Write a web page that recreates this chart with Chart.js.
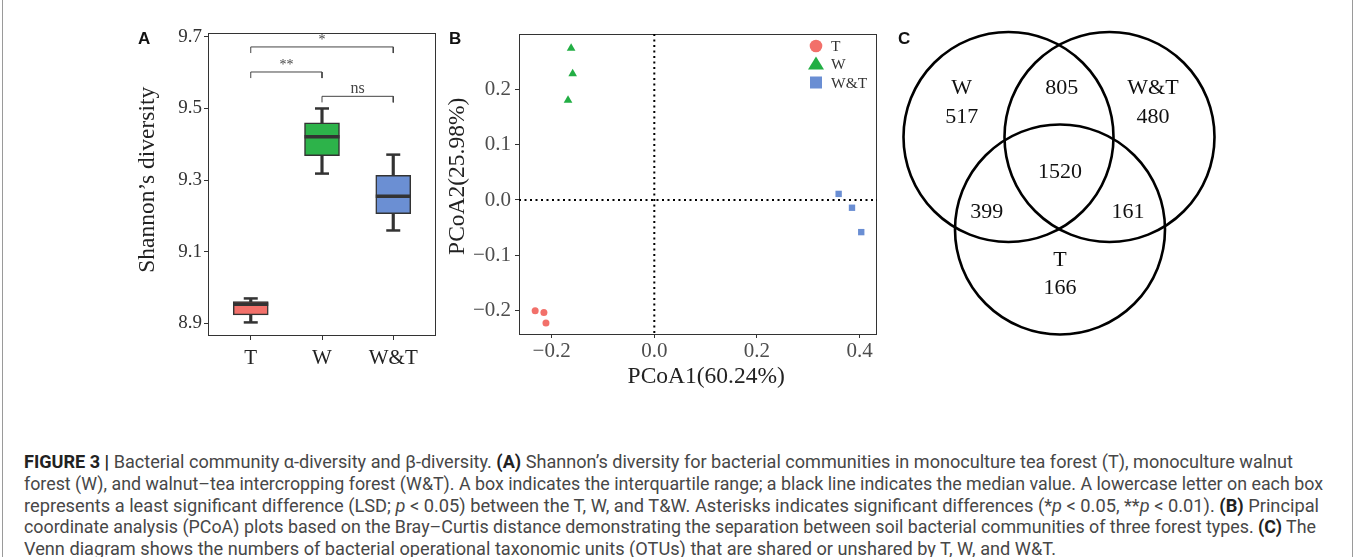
<!DOCTYPE html>
<html>
<head>
<meta charset="utf-8">
<script src="https://cdn.jsdelivr.net/npm/chart.js@4.4.0/dist/chart.umd.min.js"></script>
<style>
  body { margin: 0; background: #fff; width: 1357px; height: 557px; position: relative; overflow: hidden; }
  canvas { position: absolute; }
  .frame { position: absolute; left: 2px; top: -2px; width: 1349px; height: 558px; border: 1px solid #9a9a9a; }
  .panel { position: absolute; font: bold 17px "Liberation Sans", Arial, sans-serif; color: #111; line-height: 17px; }
  .cap { position: absolute; left: 24px; top: 451px; font-family: Roboto, "Liberation Sans", sans-serif; font-size: 18px; color: #474747; line-height: 21.8px; }
  .cap .ln { white-space: nowrap; transform-origin: 0 50%; width: max-content; }
  .cap b { color: #222; }
</style>
</head>
<body>
<div class="frame"></div>
<canvas id="boxChart" width="320" height="390" style="left:120px;top:0"></canvas>
<canvas id="pcoaChart" width="460" height="395" style="left:430px;top:0"></canvas>
<canvas id="vennChart" width="350" height="345" style="left:880px;top:0"></canvas>
<div class="panel" style="left:138px;top:30px">A</div>
<div class="panel" style="left:449px;top:30px">B</div>
<div class="panel" style="left:898px;top:30px">C</div>

<div class="cap" id="cap">
  <div class="ln"><b>FIGURE 3 |</b> Bacterial community α-diversity and β-diversity. <b>(A)</b> Shannon’s diversity for bacterial communities in monoculture tea forest (T), monoculture walnut</div>
  <div class="ln">forest (W), and walnut–tea intercropping forest (W&amp;T). A box indicates the interquartile range; a black line indicates the median value. A lowercase letter on each box</div>
  <div class="ln">represents a least significant difference (LSD; <i>p</i> &lt; 0.05) between the T, W, and T&amp;W. Asterisks indicates significant differences (*<i>p</i> &lt; 0.05, **<i>p</i> &lt; 0.01). <b>(B)</b> Principal</div>
  <div class="ln">coordinate analysis (PCoA) plots based on the Bray–Curtis distance demonstrating the separation between soil bacterial communities of three forest types. <b>(C)</b> The</div>
  <div class="ln">Venn diagram shows the numbers of bacterial operational taxonomic units (OTUs) that are shared or unshared by T, W, and W&amp;T.</div>
</div>

<script>
Chart.defaults.font.family = '"Liberation Serif", "Times New Roman", serif'
Chart.defaults.animation = false
// big point styles (median bars, venn rings) must not push the plot box in
Chart.defaults.layout.autoPadding = false

// --- A: shannon boxplot
const groups = ['T', 'W', 'W&T']
const whiskLow = [8.902, 9.318, 9.159]
const q1 = [8.923, 9.368, 9.206]
const median = [8.953, 9.421, 9.255]
const q3 = [8.960, 9.460, 9.313]
const whiskHigh = [8.969, 9.500, 9.371]
const boxColors = ['#F2706A', '#2DB34A', '#6B8FD3']
const shannonTicks = [8.9, 9.1, 9.3, 9.5, 9.7]

// significance brackets
const sigFrom = [1, 1, 2]
const sigTo = [3, 2, 3]
const sigLevel = [9.672, 9.602, 9.534]
const sigText = ['*', '**', 'ns']

// --- B: PCoA
const pcoaNames = ['T', 'W', 'W&T']
const tX = [-0.232, -0.215, -0.211]
const tY = [-0.200, -0.203, -0.222]
const wX = [-0.162, -0.159, -0.168]
const wY = [0.274, 0.228, 0.180]
const wtX = [0.359, 0.385, 0.403]
const wtY = [0.011, -0.014, -0.058]
const pcoaColors = ['#F2706A', '#22AE44', '#6A8ED3']
const pcoaTicksX = [-0.2, 0, 0.2, 0.4]
const pcoaTicksY = [-0.2, -0.1, 0, 0.1, 0.2]

// --- C: venn
const vennSets = ['W', 'W&T', 'T']
const vennCx = [-0.505, 0.505, 0.01]
const vennCy = [0, 0, -0.925]
const vennR = 1.05
const vennNameX = [-0.973, 0.94, 0.01]
const vennNameY = [0.49, 0.49, -1.23]
const vennCounts = [517, 480, 166, 805, 399, 161, 1520]
const vennCountX = [-0.973, 0.94, 0.01, 0.027, -0.723, 0.69, 0.01]
const vennCountY = [0.20, 0.20, -1.51, 0.49, -0.75, -0.75, -0.35]


const sigDrop = 0.017

// keep the plot box where it is, no extra room for edge labels
const noPadX = (h) => (s) => { s.height = h; s.paddingLeft = 0; s.paddingRight = 0 }
const noPadY = (w) => (s) => { s.width = w; s.paddingTop = 0; s.paddingBottom = 0 }

const boxDecor = {
  id: 'boxDecor',
  beforeDatasetsDraw(chart) {
    const { ctx, chartArea: a } = chart
    ctx.save()
    ctx.strokeStyle = '#333'
    ctx.lineWidth = 1
    ctx.strokeRect(a.left + 0.5, a.top + 0.5, a.width - 1, a.height - 1)
    ctx.restore()
  },
  afterDatasetsDraw(chart) {
    const { ctx, scales } = chart
    ctx.save()
    ctx.fillStyle = '#444'
    ctx.textAlign = 'center'
    ctx.textBaseline = 'alphabetic'
    sigText.forEach((t, i) => {
      const x = (scales.x.getPixelForValue(sigFrom[i]) + scales.x.getPixelForValue(sigTo[i])) / 2
      const y = scales.y.getPixelForValue(sigLevel[i])
      ctx.font = (t == 'ns' ? '16px' : '14px') + ' "Liberation Serif", serif'
      ctx.fillText(t, x, y - 3)
    })
    ctx.restore()
  }
}

const boxChart = new Chart(document.getElementById('boxChart'), {
  type: 'bar',
  data: {
    datasets: [
      {
        type: 'bar',
        data: groups.map((g, i) => ({ x: i + 1, y: [whiskLow[i], whiskHigh[i]] })),
        backgroundColor: '#333',
        barThickness: 2.5,
        grouped: false,
        order: 4
      },
      {
        type: 'bar',
        data: groups.map((g, i) => ({ x: i + 1, y: [q1[i], q3[i]] })),
        backgroundColor: boxColors,
        borderColor: '#333',
        borderWidth: 1.5,
        borderSkipped: false,
        barThickness: 35,
        grouped: false,
        order: 3
      },
      {
        type: 'scatter',
        data: groups.map((g, i) => ({ x: i + 1, y: whiskLow[i] })).concat(groups.map((g, i) => ({ x: i + 1, y: whiskHigh[i] }))),
        pointStyle: 'line',
        pointRadius: 7,
        pointBorderColor: '#333',
        pointBorderWidth: 2.5,
        order: 2
      },
      {
        type: 'scatter',
        data: groups.map((g, i) => ({ x: i + 1, y: median[i] })),
        pointStyle: 'line',
        pointRadius: 17.5,
        pointBorderColor: '#333',
        pointBorderWidth: 3.5,
        order: 1
      }
    ].concat(sigFrom.map((f, i) => ({
      type: 'line',
      data: [
        { x: f, y: sigLevel[i] - sigDrop },
        { x: f, y: sigLevel[i] },
        { x: sigTo[i], y: sigLevel[i] },
        { x: sigTo[i], y: sigLevel[i] - sigDrop }
      ],
      borderColor: '#444',
      borderWidth: 1,
      pointRadius: 0,
      fill: false,
      tension: 0,
      order: 0
    })))
  },
  plugins: [boxDecor],
  options: {
    responsive: false,
    events: [],
    layout: { autoPadding: false, padding: { top: 33, right: 4, left: 0, bottom: 0 } },
    plugins: { legend: { display: false }, tooltip: { enabled: false } },
    scales: {
      x: {
        type: 'linear',
        min: 0.4,
        max: 3.6,
        offset: false,
        afterBuildTicks: (s) => { s.ticks = groups.map((g, i) => ({ value: i + 1 })) },
        afterFit: noPadX(54),
        grid: { display: true, offset: false, drawOnChartArea: false, tickLength: 4, color: '#333' },
        border: { display: false },
        ticks: {
          color: '#222',
          padding: 6,
          maxRotation: 0,
          font: { size: 21 },
          callback: (v) => groups[Math.round(v) - 1]
        }
      },
      y: {
        min: 8.864,
        max: 9.711,
        beginAtZero: false,
        afterBuildTicks: (s) => { s.ticks = shannonTicks.map(v => ({ value: v })) },
        afterFit: noPadY(88),
        grid: { display: true, drawOnChartArea: false, tickLength: 4, color: '#333' },
        border: { display: false },
        ticks: {
          color: '#333',
          padding: 2,
          font: { size: 19 },
          callback: (v) => v.toFixed(1)
        },
        title: {
          display: true,
          text: '\u2009\u2009Shannon’s diversity',
          color: '#222',
          font: { size: 23.5 },
          padding: { top: 14, bottom: 0 }
        }
      }
    }
  }
})


const minus = (v) => (Math.abs(v) < 1e-9 ? '0.0' : v.toFixed(1).replace('-', '\u2212'))

const pcoaDecor = {
  id: 'pcoaDecor',
  beforeDatasetsDraw(chart) {
    const { ctx, chartArea: a, scales } = chart
    ctx.save()
    ctx.strokeStyle = '#333'
    ctx.lineWidth = 1
    ctx.strokeRect(a.left + 0.5, a.top + 0.5, a.width - 1, a.height - 1)
    // dotted zero lines
    ctx.strokeStyle = '#000'
    ctx.lineWidth = 2
    ctx.setLineDash([2, 3.5])
    const x0 = scales.x.getPixelForValue(0)
    const y0 = scales.y.getPixelForValue(0)
    ctx.beginPath()
    ctx.moveTo(x0, a.top)
    ctx.lineTo(x0, a.bottom)
    ctx.moveTo(a.left, y0)
    ctx.lineTo(a.right, y0)
    ctx.stroke()
    ctx.restore()
  },
  afterDatasetsDraw(chart) {
    // legend top right
    const { ctx, chartArea: a } = chart
    ctx.save()
    const mx = a.right - 61
    const tx = a.right - 46
    const rows = [a.top + 12, a.top + 29.5, a.top + 48.5]
    ctx.fillStyle = pcoaColors[0]
    ctx.beginPath()
    ctx.arc(mx, rows[0], 6.3, 0, Math.PI * 2)
    ctx.fill()
    ctx.fillStyle = pcoaColors[1]
    ctx.beginPath()
    ctx.moveTo(mx, rows[1] - 7)
    ctx.lineTo(mx + 8, rows[1] + 6)
    ctx.lineTo(mx - 8, rows[1] + 6)
    ctx.closePath()
    ctx.fill()
    ctx.fillStyle = pcoaColors[2]
    ctx.fillRect(mx - 6, rows[2] - 6, 12, 12)
    ctx.fillStyle = '#333'
    ctx.font = '15.5px "Liberation Serif", serif'
    ctx.textAlign = 'left'
    ctx.textBaseline = 'middle'
    pcoaNames.forEach((n, i) => ctx.fillText(n, tx, rows[i] + 1))
    ctx.restore()
  }
}

const pcoaChart = new Chart(document.getElementById('pcoaChart'), {
  type: 'scatter',
  data: {
    datasets: [
      {
        label: pcoaNames[0],
        data: tX.map((x, i) => ({ x: x, y: tY[i] })),
        pointStyle: 'circle',
        pointRadius: 3.5,
        pointBackgroundColor: pcoaColors[0],
        pointBorderWidth: 0
      },
      {
        label: pcoaNames[1],
        data: wX.map((x, i) => ({ x: x, y: wY[i] })),
        pointStyle: 'triangle',
        pointRadius: 5,
        pointBackgroundColor: pcoaColors[1],
        pointBorderWidth: 0
      },
      {
        label: pcoaNames[2],
        data: wtX.map((x, i) => ({ x: x, y: wtY[i] })),
        pointStyle: 'rect',
        pointRadius: 4.5,
        pointBackgroundColor: pcoaColors[2],
        pointBorderWidth: 0
      }
    ]
  },
  plugins: [pcoaDecor],
  options: {
    responsive: false,
    events: [],
    layout: { autoPadding: false, padding: { top: 34, right: 13, left: 0, bottom: 0 } },
    plugins: { legend: { display: false }, tooltip: { enabled: false } },
    scales: {
      x: {
        type: 'linear',
        min: -0.2635,
        max: 0.4337,
        afterBuildTicks: (s) => { s.ticks = pcoaTicksX.map(v => ({ value: v })) },
        afterFit: noPadX(60),
        grid: { display: true, drawOnChartArea: false, tickLength: 3, color: '#333' },
        border: { display: false },
        ticks: { color: '#4d4d4d', padding: 1, maxRotation: 0, font: { size: 21 }, callback: minus },
        title: {
          display: true,
          text: '\u2002\u2009PCoA1(60.24%)',
          color: '#222',
          font: { size: 23.5 },
          padding: { top: 0, bottom: 4 }
        }
      },
      y: {
        min: -0.2437,
        max: 0.2996,
        afterBuildTicks: (s) => { s.ticks = pcoaTicksY.map(v => ({ value: v })) },
        afterFit: noPadY(89),
        grid: { display: true, drawOnChartArea: false, tickLength: 4, color: '#333' },
        border: { display: false },
        ticks: { color: '#4d4d4d', padding: 4, font: { size: 21 }, callback: minus },
        title: {
          display: true,
          text: '\u2002\u2009PCoA2(25.98%)',
          color: '#222',
          font: { size: 23.5 },
          padding: { top: 14, bottom: 0 }
        }
      }
    }
  }
})


const vennText = {
  id: 'vennText',
  afterDatasetsDraw(chart) {
    const { ctx, scales } = chart
    ctx.save()
    ctx.fillStyle = '#111'
    ctx.font = '22px "Liberation Serif", serif'
    ctx.textAlign = 'center'
    ctx.textBaseline = 'middle'
    vennSets.forEach((n, i) => {
      ctx.fillText(n, scales.x.getPixelForValue(vennNameX[i]), scales.y.getPixelForValue(vennNameY[i]))
    })
    vennCounts.forEach((c, i) => {
      ctx.fillText(String(c), scales.x.getPixelForValue(vennCountX[i]), scales.y.getPixelForValue(vennCountY[i]))
    })
    ctx.restore()
  }
}

const vennChart = new Chart(document.getElementById('vennChart'), {
  type: 'scatter',
  data: {
    datasets: [{
      label: 'sets',
      data: vennSets.map((s, i) => ({ x: vennCx[i], y: vennCy[i] })),
      pointStyle: 'circle',
      pointRadius: (c) => {
        const s = c.chart.scales.x
        return s.getPixelForValue(vennR) - s.getPixelForValue(0)
      },
      pointBackgroundColor: 'rgba(0,0,0,0)',
      pointBorderColor: '#000',
      pointBorderWidth: 2.6
    }]
  },
  plugins: [vennText],
  options: {
    responsive: false,
    events: [],
    layout: { autoPadding: false, padding: 0 },
    plugins: { legend: { display: false }, tooltip: { enabled: false } },
    scales: {
      x: { type: 'linear', min: -1.79, max: 1.71, display: false },
      y: { type: 'linear', min: -2.08, max: 1.37, display: false }
    }
  }
})


// fit caption lines to their widths in the figure
const capEnds = [1293, 1323, 1319, 1316, 1056]
const capLeft = 24
document.querySelectorAll('#cap .ln').forEach((ln, i) => {
  const w = ln.getBoundingClientRect().width
  ln.style.transform = 'scaleX(' + ((capEnds[i] - capLeft) / w) + ')'
})
</script>
</body>
</html>
